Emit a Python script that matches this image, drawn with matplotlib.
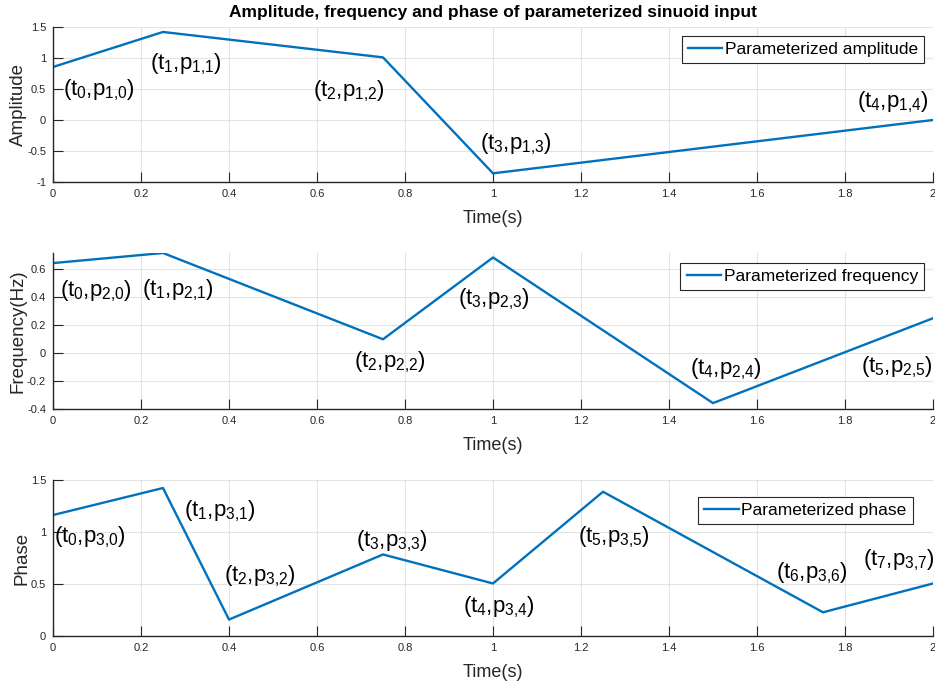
import matplotlib
matplotlib.use("Agg")
import matplotlib.pyplot as plt
from matplotlib import font_manager as fm

# ---------------- data ----------------
amp_t = [0, 0.25, 0.75, 1.0, 2.0]
amp_v = [0.855, 1.42, 1.01, -0.86, 0.0]

freq_t = [0, 0.25, 0.75, 1.0, 1.5, 2.0]
freq_v = [0.64, 0.712, 0.097, 0.68, -0.358, 0.247]

phase_t = [0, 0.25, 0.4, 0.75, 1.0, 1.25, 1.75, 2.0]
phase_v = [1.163, 1.423, 0.158, 0.784, 0.505, 1.387, 0.228, 0.505]

x_ticks = [0, 0.2, 0.4, 0.6, 0.8, 1.0, 1.2, 1.4, 1.6, 1.8, 2.0]
x_tick_labels = ["0", "0.2", "0.4", "0.6", "0.8", "1", "1.2", "1.4", "1.6", "1.8", "2"]
amp_yticks = [-1, -0.5, 0, 0.5, 1, 1.5]
amp_ytick_labels = ["-1", "-0.5", "0", "0.5", "1", "1.5"]
freq_yticks = [-0.4, -0.2, 0, 0.2, 0.4, 0.6]
freq_ytick_labels = ["-0.4", "-0.2", "0", "0.2", "0.4", "0.6"]
phase_yticks = [0, 0.5, 1, 1.5]
phase_ytick_labels = ["0", "0.5", "1", "1.5"]

def plab(i, j):
    return r"$(t_{%d}{,}p_{%d{,}%d})$" % (j, i, j)

amp_labels = [plab(1, j) for j in range(5)]
amp_label_pos = [(0.023, 0.48), (0.22, 0.90), (0.59, 0.47), (0.97, -0.39), (1.827, 0.29)]

freq_labels = [plab(2, j) for j in range(6)]
freq_label_pos = [(0.016, 0.44), (0.202, 0.45), (0.684, -0.07), (0.92, 0.38),
                  (1.448, -0.12), (1.836, -0.10)]

phase_labels = [plab(3, j) for j in range(8)]
phase_label_pos = [(0.002, 0.946), (0.298, 1.20), (0.389, 0.57), (0.689, 0.91),
                   (0.932, 0.28), (1.193, 0.946), (1.643, 0.60), (1.841, 0.73)]

# ---------------- style ----------------
installed = {f.name for f in fm.fontManager.ttflist}
narrow = "Liberation Sans Narrow" if "Liberation Sans Narrow" in installed else "Liberation Sans"
plt.rcParams["font.family"] = [narrow, "DejaVu Sans"]
plt.rcParams["mathtext.fontset"] = "custom"
plt.rcParams["mathtext.rm"] = narrow
plt.rcParams["mathtext.it"] = narrow
plt.rcParams["mathtext.bf"] = narrow + ":bold"

BLUE = "#0072BD"
DARK = "#262626"

fig = plt.figure(figsize=(9.35, 6.85), dpi=100)
W, H = 935.0, 685.0

def mkax(top_px, bot_px):
    left, right = 53 / W, 933 / W
    return fig.add_axes([left, 1 - bot_px / H, right - left, (bot_px - top_px) / H])

ax1 = mkax(27, 182)
ax2 = mkax(253, 409)
ax3 = mkax(480, 636)

specs = [
    (ax1, amp_t, amp_v, amp_yticks, amp_ytick_labels, (-1, 1.5), "Amplitude",
     "Parameterized amplitude", amp_labels, amp_label_pos, (0.990, 0.942)),
    (ax2, freq_t, freq_v, freq_yticks, freq_ytick_labels, (-0.4, max(freq_v)), "Frequency(Hz)",
     "Parameterized frequency", freq_labels, freq_label_pos, (0.990, 0.936)),
    (ax3, phase_t, phase_v, phase_yticks, phase_ytick_labels, (0, 1.5), "Phase",
     "Parameterized phase", phase_labels, phase_label_pos, (0.977, 0.891)),
]

for ax, t, v, yt, ytl, ylim, ylab, leg, labs, lpos, legpos in specs:
    ax.plot(t, v, color=BLUE, lw=1.7, label=leg)
    ax.set_xlim(0, 2)
    ax.set_ylim(*ylim)
    ax.set_xticks(x_ticks)
    ax.set_xticklabels(x_tick_labels)
    ax.set_yticks(yt)
    ax.set_yticklabels(ytl)
    ax.grid(True, color="#e3e3e3", lw=0.8)
    ax.set_axisbelow(True)
    for s in ("top", "right"):
        ax.spines[s].set_visible(False)
    for s in ("left", "bottom"):
        ax.spines[s].set_color(DARK)
        ax.spines[s].set_linewidth(1.0)
    ax.tick_params(direction="in", length=7, width=0.8, color=DARK,
                   labelsize=8, labelcolor=DARK, pad=5)
    ax.set_xlabel("Time(s)", fontsize=13, color=DARK, labelpad=8)
    ax.set_ylabel(ylab, fontsize=13.5, color=DARK, labelpad=0)
    for s, (x, y) in zip(labs, lpos):
        ax.text(x, y, s, fontsize=16, ha="left", va="center", color="black")
    lg = ax.legend(loc="upper right", bbox_to_anchor=legpos, fontsize=12.5,
                   frameon=True, fancybox=False, framealpha=1, edgecolor=DARK,
                   handlelength=2.0, handletextpad=0.15, borderpad=0.35,
                   borderaxespad=0)
    lg.get_frame().set_linewidth(0.8)

fig.text(493 / W, 1 - 12 / H, "Amplitude, frequency and phase of parameterized sinuoid input",
         ha="center", va="center", fontsize=12.5, fontweight="bold", color="black")

fig.savefig("out.png", dpi=100)
